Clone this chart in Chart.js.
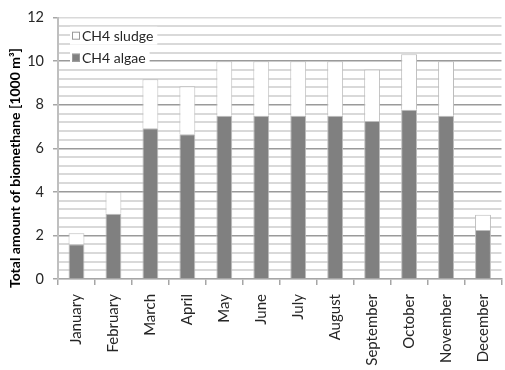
<!DOCTYPE html>
<html>
<head>
<meta charset="utf-8">
<script src="https://cdn.jsdelivr.net/npm/chart.js@4.4.1/dist/chart.umd.min.js"></script>
<style>
  html, body { margin: 0; padding: 0; background: #ffffff; overflow: hidden; }
  #wrap { width: 510px; height: 370px; }
</style>
</head>
<body>
<div id="wrap"><canvas id="chart" width="510" height="370"></canvas></div>
<script>
// Monthly biomethane production, thousands of m³
const months = ['January', 'February', 'March', 'April', 'May', 'June', 'July',
                'August', 'September', 'October', 'November', 'December'];
const ch4Algae  = [1.6, 3.0, 6.92, 6.65, 7.5, 7.5, 7.5, 7.5, 7.26, 7.77, 7.5, 2.25];
const ch4Sludge = [0.5, 1.0, 2.25, 2.2, 2.5, 2.5, 2.5, 2.5, 2.36, 2.55, 2.5, 0.7];
const yTickLabels = ['0', '2', '4', '6', '8', '10', '12'];
const yTitle = 'Total amount of biomethane [1000 m³]';

const FONT = 'Lato, "Open Sans", sans-serif';

function isMajor(v) {
  return Math.abs(v / 2 - Math.round(v / 2)) < 1e-6;
}

// Rotated axis title drawn in the left margin
const yTitlePlugin = {
  id: 'yTitle',
  afterDraw(chart) {
    const ctx = chart.ctx;
    ctx.save();
    ctx.translate(15, 168);
    ctx.rotate(-Math.PI / 2);
    ctx.font = 'bold 14px ' + FONT;
    ctx.fillStyle = '#000000';
    ctx.textAlign = 'center';
    ctx.textBaseline = 'middle';
    ctx.fillText(yTitle, 0, 0);
    ctx.restore();
  }
};

// Legend placed inside the plot area, top-left, entries listed top series first
const insideLegend = {
  id: 'insideLegend',
  afterDraw(chart) {
    const ctx = chart.ctx;
    const area = chart.chartArea;
    const items = chart.data.datasets.slice().reverse();
    ctx.save();
    ctx.font = '14px ' + FONT;
    ctx.textBaseline = 'middle';
    items.forEach((ds, i) => {
      const x = area.left + 14;
      const y = area.top + 18 + i * 22;
      const tw = ctx.measureText(ds.label).width;
      ctx.fillStyle = '#ffffff';
      ctx.fillRect(x - 2, y - 9, tw + 16, 18);
      ctx.fillStyle = ds.backgroundColor;
      ctx.fillRect(x, y - 4, 8, 8);
      ctx.strokeStyle = '#9a9a9a';
      ctx.lineWidth = 1;
      ctx.strokeRect(x + 0.5, y - 3.5, 7, 7);
      ctx.fillStyle = '#262626';
      ctx.fillText(ds.label, x + 10, y + 1);
    });
    ctx.restore();
  }
};

new Chart(document.getElementById('chart'), {
  type: 'bar',
  data: {
    labels: months,
    datasets: [
      {
        label: 'CH4 algae',
        data: ch4Algae,
        backgroundColor: '#808080',
        borderColor: '#bdbdbd',
        borderWidth: 1,
        barPercentage: 0.43,
        categoryPercentage: 1.0
      },
      {
        label: 'CH4 sludge',
        data: ch4Sludge,
        backgroundColor: '#ffffff',
        borderColor: '#bdbdbd',
        borderWidth: 1,
        barPercentage: 0.43,
        categoryPercentage: 1.0
      }
    ]
  },
  options: {
    responsive: false,
    animation: false,
    layout: { padding: { top: 15, left: 0, right: 0, bottom: 0 } },
    plugins: {
      legend: { display: false },
      tooltip: { enabled: false },
      title: { display: false }
    },
    scales: {
      x: {
        stacked: true,
        offset: true,
        border: { display: true, color: '#a6a6a6', width: 1.5 },
        grid: {
          display: true,
          drawOnChartArea: false,
          drawTicks: true,
          tickLength: 6,
          color: '#a6a6a6',
          lineWidth: 1.5,
          offset: true
        },
        ticks: {
          autoSkip: false,
          minRotation: 90,
          maxRotation: 90,
          padding: 9,
          color: '#262626',
          font: { family: FONT, size: 15 }
        },
        afterFit(scale) { scale.height = 91; }
      },
      y: {
        stacked: true,
        min: 0,
        max: 12,
        border: { display: true, color: '#bfbfbf', width: 2 },
        grid: {
          color: ctx => isMajor(ctx.tick.value) && ctx.tick.value > 0 && ctx.tick.value < 12 ? '#9a9a9a' : '#d9d9d9',
          lineWidth: ctx => isMajor(ctx.tick.value) ? 1.5 : 2,
          tickColor: ctx => isMajor(ctx.tick.value) ? '#a6a6a6' : 'rgba(0,0,0,0)',
          tickLength: 5,
          drawTicks: true
        },
        ticks: {
          stepSize: 0.4,
          autoSkip: false,
          padding: 9,
          color: '#262626',
          font: { family: FONT, size: 14.5 },
          callback: v => isMajor(v) ? yTickLabels[Math.round(v / 2)] : ''
        },
        afterFit(scale) { scale.width = 58; }
      }
    }
  },
  plugins: [yTitlePlugin, insideLegend]
});
</script>
</body>
</html>
